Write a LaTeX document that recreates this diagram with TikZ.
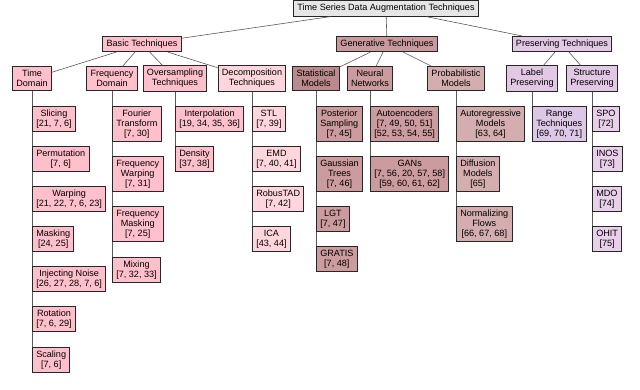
\documentclass[tikz,border=0pt]{standalone}
\usepackage{fontspec}
\setmainfont{Liberation Sans}
\usepackage{xcolor}
\definecolor{rootBack}  {HTML}{E6E6E6}
\definecolor{basicBack} {HTML}{FFC0CB}
\definecolor{decoBack}  {HTML}{FFD6DE}
\definecolor{genBack}   {HTML}{C99A9D}
\definecolor{statBack}  {HTML}{BA8A8C}
\definecolor{nnBack}    {HTML}{CB9B9E}
\definecolor{probBack}  {HTML}{D4AEAF}
\definecolor{presBack}  {HTML}{E2C8E4}
\definecolor{labelBack} {HTML}{DCC8E6}
\definecolor{strucBack} {HTML}{E8D0EA}
\usetikzlibrary{positioning}
\tikzset{
    tnode/.style={draw=black!85, line width=0.9pt, rectangle, align=center,
                  inner xsep=3.8pt, inner ysep=3.4pt,
                  font=\fontsize{9.1}{10.1}\selectfont},
    tleaf/.style={tnode, anchor=north west},
    tedge/.style={-, draw=black!65, line width=0.6pt},
}

\begin{document}
\begin{tikzpicture}[x=1pt, y=-1pt]
\useasboundingbox (0,0) rectangle (640,389);

% --- root and main branches ---
\node[tnode, fill=rootBack] (root) at (386, 8.5) {Time Series Data Augmentation Techniques};
\node[tnode, fill=basicBack] (basic) at (142, 44) {Basic Techniques};
\node[tnode, fill=genBack] (gen) at (387, 44) {Generative Techniques};
\node[tnode, fill=presBack] (pres) at (562, 44) {Preserving Techniques};
\draw[tedge] (root) -- (basic);
\draw[tedge] (root) -- (gen);
\draw[tedge] (root) -- (pres);

% --- second level ---
\node[tnode, fill=basicBack] (td) at (32, 78.5) {Time\\Domain};
\node[tnode, fill=basicBack] (fd) at (112, 78.5) {Frequency\\Domain};
\node[tnode, fill=basicBack] (os) at (175, 78.5) {Oversampling\\Techniques};
\node[tnode, fill=decoBack] (dc) at (252, 78.5) {Decomposition\\Techniques};
\node[tnode, fill=statBack] (sm) at (316, 78.5) {Statistical\\Models};
\node[tnode, fill=nnBack] (nn) at (370, 78.5) {Neural\\Networks};
\node[tnode, fill=probBack] (pm) at (456, 78.5) {Probabilistic\\Models};
\node[tnode, fill=presBack] (lp) at (532, 78.5) {Label\\Preserving};
\node[tnode, fill=presBack] (sp) at (592, 78.5) {Structure\\Preserving};
\foreach \c in {td, fd, os, dc} \draw[tedge] (basic) -- (\c);
\foreach \c in {sm, nn, pm} \draw[tedge] (gen) -- (\c);
\foreach \c in {lp, sp} \draw[tedge] (pres) -- (\c);

% --- time domain ---
\draw[tedge] (td.south) -- (32, 347);
\node[tleaf, fill=basicBack] (slice) at (32, 106) {Slicing\\{[21, 7, 6]}};
\node[tleaf, fill=basicBack] (perm) at (32, 146) {Permutation\\{[7, 6]}};
\node[tleaf, fill=basicBack] (warp) at (32, 186) {Warping\\{[21, 22, 7, 6, 23]}};
\node[tleaf, fill=basicBack] (mask) at (32, 226) {Masking\\{[24, 25]}};
\node[tleaf, fill=basicBack] (noise) at (32, 266) {Injecting Noise\\{[26, 27, 28, 7, 6]}};
\node[tleaf, fill=basicBack] (rot) at (32, 306) {Rotation\\{[7, 6, 29]}};
\node[tleaf, fill=basicBack] (scale) at (32, 347) {Scaling\\{[7, 6]}};

% --- frequency domain ---
\draw[tedge] (fd.south) -- (112, 257);
\node[tleaf, fill=basicBack] (fourier) at (112, 106) {Fourier\\Transform\\{[7, 30]}};
\node[tleaf, fill=basicBack] (fwarp) at (112, 156) {Frequency\\Warping\\{[7, 31]}};
\node[tleaf, fill=basicBack] (fmask) at (112, 206) {Frequency\\Masking\\{[7, 25]}};
\node[tleaf, fill=basicBack] (mix) at (112, 257) {Mixing\\{[7, 32, 33]}};

% --- oversampling ---
\draw[tedge] (os.south) -- (175, 146);
\node[tleaf, fill=basicBack] (interp) at (175, 106) {Interpolation\\{[19, 34, 35, 36]}};
\node[tleaf, fill=basicBack] (dens) at (175, 146) {Density\\{[37, 38]}};

% --- decomposition ---
\draw[tedge] (dc.south) -- (252, 226);
\node[tleaf, fill=decoBack] (stl) at (252, 106) {STL\\{[7, 39]}};
\node[tleaf, fill=decoBack] (emd) at (252, 146) {EMD\\{[7, 40, 41]}};
\node[tleaf, fill=decoBack] (robus) at (252, 186) {RobusTAD\\{[7, 42]}};
\node[tleaf, fill=decoBack] (ica) at (252, 226) {ICA\\{[43, 44]}};

% --- statistical models ---
\draw[tedge] (sm.south) -- (316, 246);
\node[tleaf, fill=nnBack] (post) at (316, 106) {Posterior\\Sampling\\{[7, 45]}};
\node[tleaf, fill=nnBack] (gtree) at (316, 156) {Gaussian\\Trees\\{[7, 46]}};
\node[tleaf, fill=nnBack] (lgt) at (316, 206) {LGT\\{[7, 47]}};
\node[tleaf, fill=nnBack] (gratis) at (316, 246) {GRATIS\\{[7, 48]}};

% --- neural networks ---
\draw[tedge] (nn.south) -- (370, 156);
\node[tleaf, fill=nnBack] (ae) at (370, 106) {Autoencoders\\{[7, 49, 50, 51]}\\{[52, 53, 54, 55]}};
\node[tleaf, fill=nnBack] (gan) at (370, 156) {GANs\\{[7, 56, 20, 57, 58]}\\{[59, 60, 61, 62]}};

% --- probabilistic models ---
\draw[tedge] (pm.south) -- (456, 206);
\node[tleaf, fill=probBack] (autoreg) at (456, 106) {Autoregressive\\Models\\{[63, 64]}};
\node[tleaf, fill=probBack] (diff) at (456, 156) {Diffusion\\Models\\{[65]}};
\node[tleaf, fill=probBack] (flow) at (456, 206) {Normalizing\\Flows\\{[66, 67, 68]}};

% --- label preserving ---
\draw[tedge] (lp.south) -- (532, 106);
\node[tleaf, fill=labelBack] (range) at (532, 106) {Range\\Techniques\\{[69, 70, 71]}};

% --- structure preserving ---
\draw[tedge] (sp.south) -- (592, 226);
\node[tleaf, fill=strucBack] (spo) at (592, 106) {SPO\\{[72]}};
\node[tleaf, fill=strucBack] (inos) at (592, 146) {INOS\\{[73]}};
\node[tleaf, fill=strucBack] (mdo) at (592, 186) {MDO\\{[74]}};
\node[tleaf, fill=strucBack] (ohit) at (592, 226) {OHIT\\{[75]}};
\end{tikzpicture}
\end{document}
